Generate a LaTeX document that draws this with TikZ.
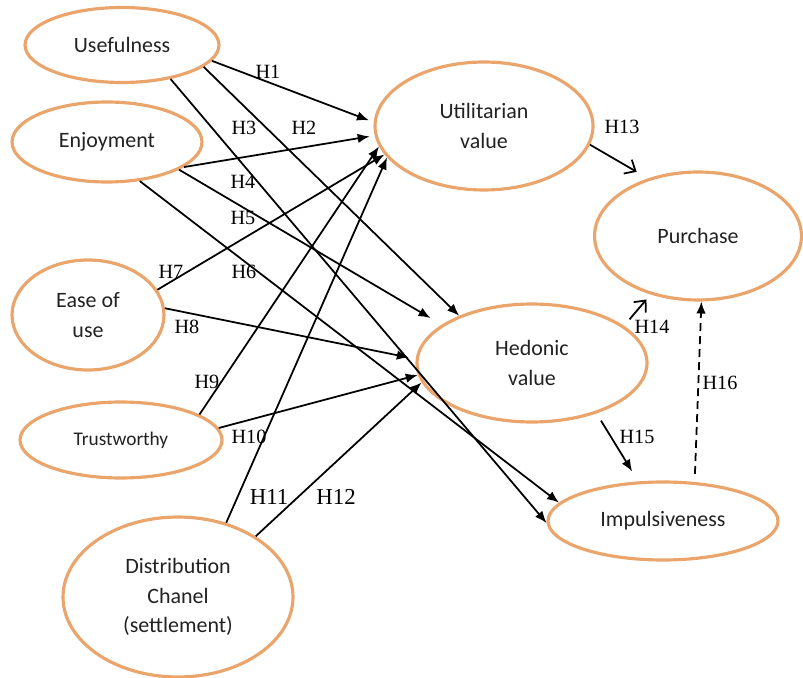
\documentclass[tikz,border=0pt]{standalone}
\usepackage{fontspec}
\setmainfont{Liberation Serif}
\newfontfamily\cbr{Carlito}
\usetikzlibrary{shapes.geometric,arrows.meta}
\usepackage{xcolor}
\definecolor{Peach}{HTML}{E9A56B}
\definecolor{Ink}{HTML}{222222}
\tikzset{
  construct/.style={ellipse,draw=Peach,line width=1.8pt,inner sep=0pt,text=Ink,
    align=center,font=\cbr\fontsize{12.5}{16.8}\selectfont},
  hyp/.style={-{Latex[length=0.24cm,width=0.19cm]},line width=1pt},
  openhyp/.style={-{Straight Barb[length=0.18cm,width=0.32cm]},line width=1pt},
  hlabel/.style={font=\fontsize{11.5}{13}\selectfont,inner sep=1pt}
}

\begin{document}
\begin{tikzpicture}[x=0.02cm,y=-0.02cm]
    \useasboundingbox (0,0) rectangle (803,678);

    \node[construct,minimum width=3.88cm,minimum height=1.5cm] (use) at (122,45) {Usefulness};
    \node[construct,minimum width=3.8cm,minimum height=1.6cm] (enj) at (107,142) {Enjoyment};
    \node[construct,minimum width=3.04cm,minimum height=2.2cm] (ease) at (88,315) {Ease of\\use};
    \node[construct,minimum width=4.04cm,minimum height=1.52cm,font=\cbr\fontsize{11}{14}\selectfont] (trust) at (121,440) {Trustworthy};
    \node[construct,minimum width=4.6cm,minimum height=3.2cm] (dist) at (178,597) {Distribution\\Chanel\\(settlement)};
    \node[construct,minimum width=4.36cm,minimum height=2.56cm] (util) at (484,126) {Utilitarian\\value};
    \node[construct,minimum width=4.14cm,minimum height=2.56cm] (pur) at (698,236) {Purchase};
    \node[construct,minimum width=4.6cm,minimum height=2.36cm] (hed) at (532,363) {Hedonic\\value};
    \node[construct,minimum width=4.6cm,minimum height=1.56cm] (imp) at (663,521) {Impulsiveness};

    % paths into the value constructs
    \draw[hyp,shorten >=0.1cm] (use.-10) -- (util.178);
    \draw[hyp] (use.-15) -- (hed.147);
    \draw[hyp] (use.-35) -- (imp.181);
    \draw[hyp,shorten >=0.1cm] (enj.-18) -- (util.185);
    \draw[hyp,shorten >=0.26cm] (enj.-21) -- (hed.157);
    \draw[hyp] (enj.-50) -- (imp.170);
    \draw[hyp] (ease.20) -- (util.196);
    \draw[hyp,shorten >=0.14cm] (ease.5) -- (hed.178);
    \draw[hyp] (trust.18) -- (util.191);
    \draw[hyp] (trust.7) -- (hed.186);
    \draw[hyp] (dist.57) -- (util.198);
    \draw[hyp] (dist.38) -- (hed.190);

    % paths to purchase
    \draw[openhyp,shorten >=0.26cm] (util.-10) -- (pur.131);
    \draw[openhyp,shorten <=0.17cm,shorten >=0.13cm] (hed.22) -- (pur.231);
    \draw[hyp,shorten <=0.17cm,shorten >=0.23cm] (hed.-38) -- (imp.122);
    \draw[hyp,dash pattern=on 0.16cm off 0.1cm,shorten <=0.16cm] (imp.51) -- (pur.-87);

    \node[hlabel] (h1) at (268,72) {H1};
    \node[hlabel] (h2) at (304,128) {H2};
    \node[hlabel] (h3) at (244,128) {H3};
    \node[hlabel] (h4) at (243,182) {H4};
    \node[hlabel] (h5) at (243,218) {H5};
    \node[hlabel] (h6) at (244,272) {H6};
    \node[hlabel] (h7) at (171,272) {H7};
    \node[hlabel] (h8) at (187,327) {H8};
    \node[hlabel] (h9) at (207,382) {H9};
    \node[hlabel] (h10) at (249,437) {H10};
    \node[hlabel,font=\fontsize{13}{15}\selectfont] (h11) at (269,497) {H11};
    \node[hlabel,font=\fontsize{13}{15}\selectfont] (h12) at (336,497) {H12};
    \node[hlabel] (h13) at (622,127) {H13};
    \node[hlabel] (h14) at (652,327) {H14};
    \node[hlabel] (h15) at (637,437) {H15};
    \node[hlabel] (h16) at (720,383) {H16};
\end{tikzpicture}
\end{document}
